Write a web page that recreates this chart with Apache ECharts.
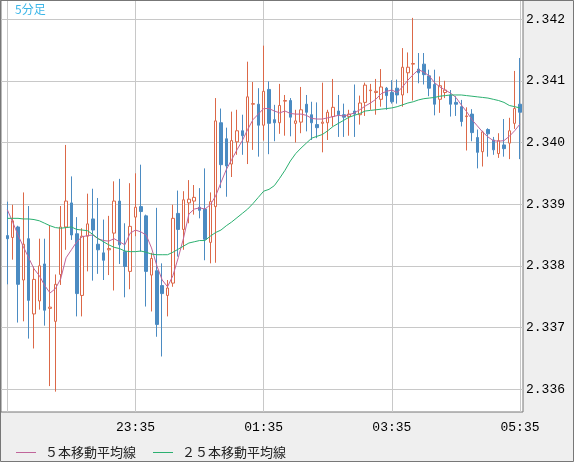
<!DOCTYPE html>
<html>
<head>
<meta charset="utf-8">
<script src="https://cdn.jsdelivr.net/npm/echarts@6/dist/echarts.min.js"></script>
<style>
html, body { margin: 0; padding: 0; background: #efefef; }
#chart { width: 574px; height: 462px; }
</style>
</head>
<body>
<div id="chart"></div>
<script>
// 5分足 21:35 - 05:35
const times = [
  '21:35','21:40','21:45','21:50','21:55',
  '22:00','22:05','22:10','22:15','22:20','22:25','22:30','22:35','22:40','22:45','22:50','22:55',
  '23:00','23:05','23:10','23:15','23:20','23:25','23:30','23:35','23:40','23:45','23:50','23:55',
  '00:00','00:05','00:10','00:15','00:20','00:25','00:30','00:35','00:40','00:45','00:50','00:55',
  '01:00','01:05','01:10','01:15','01:20','01:25','01:30','01:35','01:40','01:45','01:50','01:55',
  '02:00','02:05','02:10','02:15','02:20','02:25','02:30','02:35','02:40','02:45','02:50','02:55',
  '03:00','03:05','03:10','03:15','03:20','03:25','03:30','03:35','03:40','03:45','03:50','03:55',
  '04:00','04:05','04:10','04:15','04:20','04:25','04:30','04:35','04:40','04:45','04:50','04:55',
  '05:00','05:05','05:10','05:15','05:20','05:25','05:30','05:35'
];

// [open, close, low, high]
const ohlc = [
  [2.33849, 2.33844, 2.33770, 2.33904], [2.33846, 2.33873, 2.33810, 2.33899],
  [2.33863, 2.33770, 2.33708, 2.33865], [2.33777, 2.33835, 2.33710, 2.33919],
  [2.33844, 2.33744, 2.33682, 2.33897], [2.33722, 2.33778, 2.33666, 2.33799],
  [2.33743, 2.33800, 2.33729, 2.33844], [2.33803, 2.33728, 2.33703, 2.33844],
  [2.33731, 2.33733, 2.33605, 2.33865], [2.33710, 2.33770, 2.33596, 2.33786],
  [2.33786, 2.33863, 2.33769, 2.33897], [2.33863, 2.33905, 2.33826, 2.33996],
  [2.33902, 2.33850, 2.33842, 2.33945], [2.33852, 2.33755, 2.33718, 2.33879],
  [2.33752, 2.33848, 2.33718, 2.33861], [2.33848, 2.33868, 2.33791, 2.33917],
  [2.33876, 2.33858, 2.33776, 2.33925], [2.33835, 2.33826, 2.33787, 2.33910],
  [2.33821, 2.33809, 2.33777, 2.33875], [2.33826, 2.33828, 2.33785, 2.33881],
  [2.33853, 2.33905, 2.33760, 2.33937], [2.33905, 2.33834, 2.33803, 2.33941],
  [2.33823, 2.33799, 2.33749, 2.33869], [2.33791, 2.33864, 2.33762, 2.33934],
  [2.33879, 2.33895, 2.33848, 2.33950], [2.33896, 2.33888, 2.33823, 2.33964],
  [2.33881, 2.33791, 2.33734, 2.33883], [2.33785, 2.33812, 2.33726, 2.33821],
  [2.33792, 2.33705, 2.33685, 2.33894], [2.33768, 2.33755, 2.33653, 2.33804],
  [2.33752, 2.33764, 2.33718, 2.33777], [2.33772, 2.33877, 2.33766, 2.33899],
  [2.33885, 2.33859, 2.33815, 2.33922], [2.33859, 2.33907, 2.33826, 2.33921],
  [2.33902, 2.33908, 2.33869, 2.33939], [2.33905, 2.33911, 2.33883, 2.33931],
  [2.33895, 2.33890, 2.33877, 2.33926], [2.33892, 2.33843, 2.33809, 2.33958],
  [2.33838, 2.33904, 2.33804, 2.33919], [2.33896, 2.34035, 2.33805, 2.34072],
  [2.34032, 2.33964, 2.33926, 2.34055], [2.34006, 2.33962, 2.33912, 2.34024],
  [2.33965, 2.34003, 2.33944, 2.34050], [2.34001, 2.34019, 2.33980, 2.34053],
  [2.34019, 2.34011, 2.33980, 2.34045], [2.34001, 2.34074, 2.33965, 2.34131],
  [2.34062, 2.34063, 2.33988, 2.34098], [2.34062, 2.34028, 2.33977, 2.34088],
  [2.34028, 2.34083, 2.34003, 2.34157], [2.34086, 2.34031, 2.33981, 2.34099],
  [2.34037, 2.34032, 2.34002, 2.34061], [2.34032, 2.34060, 2.34014, 2.34095],
  [2.34067, 2.34068, 2.34011, 2.34077], [2.34068, 2.34041, 2.34010, 2.34072],
  [2.34031, 2.34035, 2.34000, 2.34053], [2.34033, 2.34053, 2.34015, 2.34090],
  [2.34062, 2.34049, 2.34018, 2.34077], [2.34045, 2.34032, 2.34004, 2.34066],
  [2.34029, 2.34024, 2.34007, 2.34065], [2.34031, 2.34033, 2.33984, 2.34097],
  [2.34032, 2.34049, 2.34004, 2.34053], [2.34042, 2.34057, 2.34026, 2.34103],
  [2.34051, 2.34045, 2.34009, 2.34077], [2.34045, 2.34041, 2.34009, 2.34063],
  [2.34042, 2.34046, 2.34011, 2.34053], [2.34051, 2.34046, 2.34009, 2.34094],
  [2.34045, 2.34064, 2.34029, 2.34076], [2.34065, 2.34093, 2.34043, 2.34097],
  [2.34084, 2.34085, 2.34053, 2.34095], [2.34081, 2.34083, 2.34045, 2.34103],
  [2.34070, 2.34090, 2.34058, 2.34119], [2.34088, 2.34076, 2.34053, 2.34090],
  [2.34081, 2.34066, 2.34063, 2.34101], [2.34088, 2.34077, 2.34063, 2.34102],
  [2.34077, 2.34122, 2.34058, 2.34153], [2.34113, 2.34122, 2.34080, 2.34146],
  [2.34127, 2.34128, 2.34068, 2.34202], [2.34119, 2.34113, 2.34096, 2.34145],
  [2.34127, 2.34110, 2.34094, 2.34145], [2.34108, 2.34088, 2.34075, 2.34118],
  [2.34094, 2.34062, 2.34044, 2.34118], [2.34070, 2.34092, 2.34048, 2.34107],
  [2.34081, 2.34085, 2.34072, 2.34100], [2.34077, 2.34062, 2.34042, 2.34085],
  [2.34065, 2.34062, 2.34043, 2.34075], [2.34058, 2.34034, 2.34026, 2.34069],
  [2.34042, 2.34043, 2.33987, 2.34057], [2.34046, 2.34016, 2.34002, 2.34054],
  [2.34008, 2.33984, 2.33958, 2.34021], [2.33985, 2.34017, 2.33961, 2.34019],
  [2.34021, 2.34014, 2.33977, 2.34023], [2.34004, 2.33988, 2.33980, 2.34009],
  [2.33982, 2.34003, 2.33975, 2.34015], [2.33996, 2.33990, 2.33977, 2.34038],
  [2.33999, 2.34019, 2.33973, 2.34040], [2.34031, 2.34055, 2.34022, 2.34116],
  [2.34062, 2.34049, 2.33973, 2.34137]
];

const ma5 = [
  2.33891, 2.33871, 2.33850, 2.33831, 2.33813, 2.33795, 2.33784, 2.33768, 2.33756, 2.33763,
  2.33779, 2.33813, 2.33826, 2.33839, 2.33847, 2.33849, 2.33850, 2.33844, 2.33841, 2.33840,
  2.33844, 2.33839, 2.33834, 2.33853, 2.33858, 2.33855, 2.33850, 2.33829, 2.33800, 2.33777,
  2.33766, 2.33784, 2.33813, 2.33845, 2.33884, 2.33892, 2.33894, 2.33892, 2.33899, 2.33913,
  2.33935, 2.33956, 2.33972, 2.33988, 2.34003, 2.34021, 2.34037, 2.34046, 2.34055, 2.34055,
  2.34051, 2.34048, 2.34051, 2.34047, 2.34046, 2.34046, 2.34044, 2.34039, 2.34038, 2.34038,
  2.34040, 2.34042, 2.34044, 2.34043, 2.34045, 2.34048, 2.34053, 2.34059, 2.34064, 2.34070,
  2.34079, 2.34083, 2.34085, 2.34081, 2.34090, 2.34101, 2.34110, 2.34118, 2.34114, 2.34108,
  2.34097, 2.34090, 2.34085, 2.34080, 2.34073, 2.34061, 2.34050, 2.34037, 2.34027, 2.34017,
  2.34009, 2.34003, 2.34002, 2.34003, 2.34010, 2.34019, 2.34030
];

const ma25 = [
  2.33877, 2.33877, 2.33877, 2.33876, 2.33876, 2.33875, 2.33873, 2.33869, 2.33865, 2.33862,
  2.33861, 2.33862, 2.33863, 2.33859, 2.33858, 2.33857, 2.33851, 2.33844, 2.33839, 2.33834,
  2.33830, 2.33828, 2.33824, 2.33823, 2.33823, 2.33824, 2.33822, 2.33819, 2.33818, 2.33818,
  2.33818, 2.33822, 2.33827, 2.33832, 2.33837, 2.33839, 2.33841, 2.33841, 2.33848, 2.33854,
  2.33858, 2.33865, 2.33871, 2.33878, 2.33885, 2.33892, 2.33901, 2.33911, 2.33921, 2.33924,
  2.33930, 2.33942, 2.33955, 2.33970, 2.33982, 2.33991, 2.33999, 2.34007, 2.34010, 2.34013,
  2.34019, 2.34026, 2.34031, 2.34036, 2.34041, 2.34044, 2.34047, 2.34051, 2.34052, 2.34053,
  2.34054, 2.34055, 2.34056, 2.34058, 2.34061, 2.34064, 2.34066, 2.34069, 2.34071, 2.34072,
  2.34073, 2.34075, 2.34076, 2.34077, 2.34077, 2.34077, 2.34076, 2.34075, 2.34074, 2.34073,
  2.34072, 2.34070, 2.34068, 2.34065, 2.34060, 2.34058, 2.34056
];

const yMin = 2.33563;
const yMax = 2.34231;
const upColor = '#dc6848';
const downColor = '#4b8bc2';
const monoFont = '"Liberation Mono", "DejaVu Sans Mono", monospace';
const jpFont = '"Noto Sans CJK JP", "Noto Sans", sans-serif';

let myChart = echarts.init(document.getElementById('chart'));
let option = {
  backgroundColor: '#efefef',
  animation: false,
  title: {
    text: '5分足',
    left: 15,
    top: 3,
    padding: 0,
    textStyle: { color: '#3cb6e8', fontSize: 12, fontWeight: 'normal', fontFamily: jpFont }
  },
  legend: {
    data: ['５本移動平均線', '２５本移動平均線'],
    left: 16,
    top: 446,
    padding: 0,
    icon: 'rect',
    itemWidth: 20,
    itemHeight: 1,
    itemGap: 17,
    textStyle: { color: '#222', fontSize: 13, fontFamily: jpFont, padding: [0, 0, 0, 4] }
  },
  graphic: [{
    type: 'rect',
    silent: true,
    z: 100,
    shape: { x: 0.5, y: 0.5, width: 573, height: 461 },
    style: { fill: null, stroke: '#777', lineWidth: 1 }
  }],
  grid: [
    {
      // frame + horizontal lines
      left: 1, top: 0, right: 51, bottom: 50,
      show: true,
      backgroundColor: '#fff',
      borderColor: '#777',
      borderWidth: 1
    },
    {
      // candles: first bar on the left gridline, last on the right one
      left: 7.33, top: 0, right: 54, bottom: 50
    }
  ],
  xAxis: [
    { gridIndex: 0, type: 'value', min: 0, max: 1, show: false },
    {
      gridIndex: 1,
      type: 'category',
      data: times,
      boundaryGap: false,
      axisLine: { show: false },
      axisTick: { show: false },
      axisLabel: {
        interval: 23,
        margin: 9,
        color: '#000',
        fontSize: 13,
        fontFamily: monoFont,
        formatter: (v, i) => (i === 0 ? '' : v)
      },
      splitLine: {
        show: true,
        interval: 23,
        lineStyle: { color: '#c8c8c8', width: 1 }
      }
    }
  ],
  yAxis: [
    {
      gridIndex: 0,
      type: 'value',
      position: 'right',
      min: yMin,
      max: yMax,
      axisLine: { show: false },
      axisTick: { show: false },
      axisLabel: {
        margin: 3,
        color: '#000',
        fontSize: 13,
        fontFamily: monoFont,
        showMinLabel: false,
        showMaxLabel: false,
        formatter: v => v.toFixed(3)
      },
      splitLine: {
        show: true,
        showMinLine: false,
        showMaxLine: false,
        lineStyle: { color: '#c8c8c8', width: 1 }
      }
    },
    { gridIndex: 1, type: 'value', min: yMin, max: yMax, show: false, splitLine: { show: false } }
  ],
  series: [
    {
      name: '5分足',
      type: 'candlestick',
      xAxisIndex: 1,
      yAxisIndex: 1,
      data: ohlc,
      barWidth: 3,
      clip: false,
      itemStyle: {
        color: '#fff',
        color0: downColor,
        borderColor: upColor,
        borderColor0: downColor,
        borderWidth: 1
      }
    },
    {
      name: '５本移動平均線',
      type: 'line',
      xAxisIndex: 1,
      yAxisIndex: 1,
      data: ma5,
      showSymbol: false,
      clip: false,
      color: '#c0659a',
      lineStyle: { width: 1, color: '#c0659a' },
      z: 3
    },
    {
      name: '２５本移動平均線',
      type: 'line',
      xAxisIndex: 1,
      yAxisIndex: 1,
      data: ma25,
      showSymbol: false,
      clip: false,
      color: '#2bb070',
      lineStyle: { width: 1, color: '#2bb070' },
      z: 3
    }
  ]
};
myChart.setOption(option);
</script>
</body>
</html>
